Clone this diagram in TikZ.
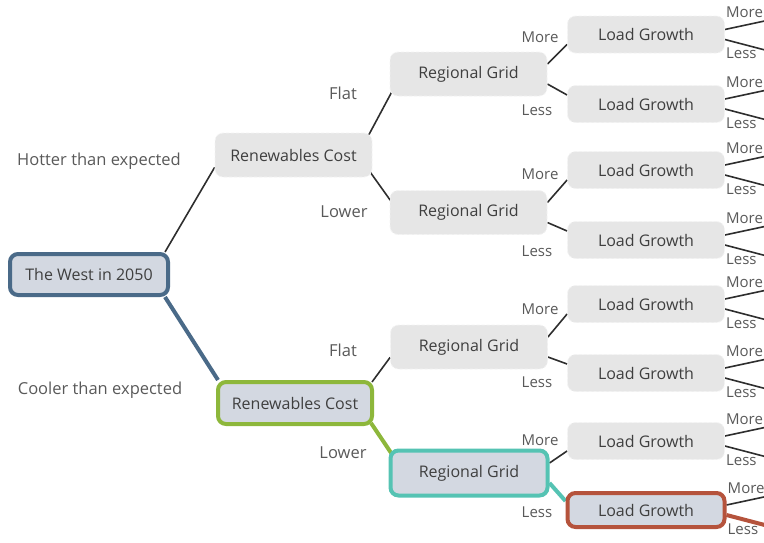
\documentclass[tikz,border=0pt]{standalone}
\usepackage{fontspec}
\setmainfont{Open Sans}
\usetikzlibrary{calc,backgrounds}

\definecolor{boxgray}{HTML}{E6E6E6}
\definecolor{boxedge}{HTML}{F3F3F3}
\definecolor{hlfill}{HTML}{D3D8E1}
\definecolor{rootblue}{HTML}{4A6A88}
\definecolor{costgreen}{HTML}{8DB73B}
\definecolor{gridteal}{HTML}{55C3B3}
\definecolor{loadred}{HTML}{B5533C}
\definecolor{inkbox}{HTML}{3F3F3F}
\definecolor{inklabel}{HTML}{595959}
\definecolor{linkgray}{HTML}{2E2E2E}

\tikzset{
  choice/.style={rounded corners=8pt, fill=boxgray, draw=boxedge,
    dash pattern=on 3pt off 2pt, line width=0.8pt, text=inkbox,
    font=\fontsize{16}{18}\selectfont, inner sep=0pt,
    minimum width=157pt, minimum height=44pt},
  loadbox/.style={choice, minimum height=37pt},
  picked/.style={fill=hlfill, solid, line width=4pt},
  branch/.style={text=inklabel, font=\fontsize{16.5}{18}\selectfont, inner sep=0pt},
  twig/.style={text=inklabel, font=\fontsize{15}{17}\selectfont, inner sep=0pt},
  link/.style={draw=linkgray, line width=1.6pt},
  hilink/.style={line width=4pt},
}

\begin{document}
\begin{tikzpicture}[x=1pt,y=-1pt]
\useasboundingbox (0,0) rectangle (764,542);

% root and first split
\node[choice, picked, draw=rootblue, minimum width=158pt, minimum height=41pt] (root) at (89,274.5) {The West in 2050};
\node[choice] (rc1) at (293.5,155) {Renewables Cost};
\node[choice, picked, draw=costgreen, minimum width=154pt, minimum height=42pt] (rc2) at (295,403) {Renewables Cost};

% regional grid level
\node[choice] (rg1) at (468.5,74) {Regional Grid};
\node[choice] (rg2) at (468.5,212.5) {Regional Grid};
\node[choice] (rg3) at (469,347) {Regional Grid};
\node[choice, picked, draw=gridteal, minimum width=157pt, minimum height=45pt] (rg4) at (469,473) {Regional Grid};

% load growth level
\node[loadbox] (lg1) at (646,34.5) {Load Growth};
\node[loadbox] (lg2) at (646,104) {Load Growth};
\node[loadbox] (lg3) at (646,170) {Load Growth};
\node[loadbox] (lg4) at (646,240) {Load Growth};
\node[loadbox] (lg5) at (646,304) {Load Growth};
\node[loadbox] (lg6) at (646,373) {Load Growth};
\node[loadbox] (lg7) at (646,441) {Load Growth};
\node[loadbox, picked, draw=loadred, minimum width=157pt, minimum height=34pt] (lg8) at (646,510) {Load Growth};

% branch labels
\node[branch] (hot) at (99,161) {Hotter than expected};
\node[branch] (cool) at (100,390) {Cooler than expected};
\node[branch] (flat1) at (343,93) {Flat};
\node[branch] (low1) at (344,212) {Lower};
\node[branch] (flat2) at (343,350) {Flat};
\node[branch] (low2) at (343,453) {Lower};
\node[twig] (m1) at (540,37) {More};
\node[twig] (l1) at (537,110) {Less};
\node[twig] (m2) at (540,174) {More};
\node[twig] (l2) at (537,251) {Less};
\node[twig] (m3) at (540,309) {More};
\node[twig] (l3) at (537,382) {Less};
\node[twig] (m4) at (540,440.5) {More};
\node[twig] (l4) at (537,512) {Less};

% open-ended More / Less branches after each load growth box
\foreach \k in {1,...,8}{
  \node[twig, anchor=west] (em\k) at ($(lg\k.east)+(1,-22)$) {More};
  \node[twig, anchor=west] (el\k) at ($(lg\k.east)+(1,19)$) {Less};
}

\begin{scope}[on background layer]
  % root to renewables cost
  \draw[link] ($(root.north east)+(-5,0)$) -- ($(rc1.south west)+(0,-10)$);
  \draw[link, hilink, draw=rootblue] ($(root.south east)+(-5,0)$) -- ($(rc2.north west)+(2,0)$);
  % renewables cost to regional grid
  \draw[link] ($(rc1.north east)+(-4,3)$) -- ($(rg1.south west)+(3,-6)$);
  \draw[link] ($(rc1.south east)+(-2,-5)$) -- ($(rg2.north west)+(2,12)$);
  \draw[link] ($(rc2.north east)+(-2,2)$) -- ($(rg3.south west)+(0,-12)$);
  \draw[link, hilink, draw=costgreen] ($(rc2.south east)+(-3,-3)$) -- ($(rg4.north west)+(3,5)$);
  % regional grid to load growth
  \draw[link] ($(rg1.east)+(0,-10)$) -- ($(lg1.west)+(0,10)$);
  \draw[link] ($(rg1.east)+(0,10)$) -- ($(lg2.west)+(0,-9)$);
  \draw[link] ($(rg2.east)+(0,-10)$) -- ($(lg3.west)+(0,10)$);
  \draw[link] ($(rg2.east)+(0,10)$) -- ($(lg4.west)+(0,-9)$);
  \draw[link] ($(rg3.east)+(0,-10)$) -- ($(lg5.west)+(0,10)$);
  \draw[link] ($(rg3.east)+(0,10)$) -- ($(lg6.west)+(0,-9)$);
  \draw[link] ($(rg4.east)+(0,-10)$) -- ($(lg7.west)+(0,10)$);
  \draw[link, hilink, draw=gridteal] ($(rg4.east)+(0,10)$) -- ($(lg8.west)+(0,-9)$);
  % load growth to the open ends
  \foreach \k in {1,...,7}{
    \draw[link] ($(lg\k.east)+(0,-5)$) -- ($(lg\k.east)+(42,-14)$);
    \draw[link] ($(lg\k.east)+(0,5)$) -- ($(lg\k.east)+(42,16)$);
  }
  \draw[link] ($(lg8.east)+(0,-5)$) -- ($(lg8.east)+(42,-14)$);
  \draw[link, hilink, draw=loadred] ($(lg8.east)+(0,5)$) -- ($(lg8.east)+(42,16)$);
\end{scope}
\end{tikzpicture}
\end{document}
